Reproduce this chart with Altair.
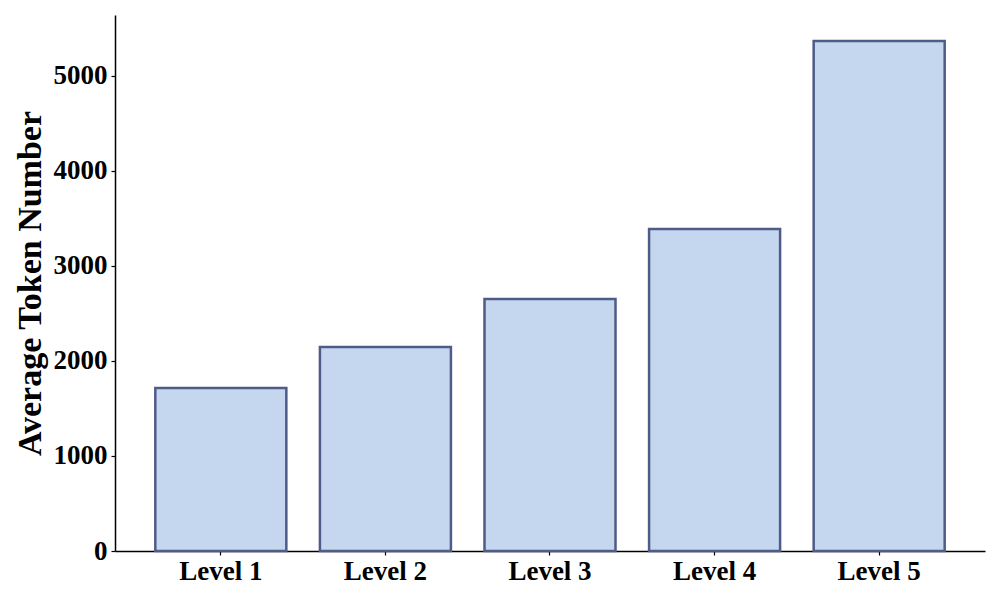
import altair as alt
import pandas as pd

levels = ["Level 1", "Level 2", "Level 3", "Level 4", "Level 5"]
tokens = [1716, 2147, 2653, 3389, 5368]

df = pd.DataFrame({"level": levels, "tokens": tokens})

font = "Liberation Serif"

chart = alt.Chart(df).mark_bar(
    fill="#c5d7ee", stroke="#4f5b88", strokeWidth=2.5
).encode(
    x=alt.X("level:N", sort=levels,
            scale=alt.Scale(paddingInner=0.204, paddingOuter=0.245),
            axis=alt.Axis(title=None, labelAngle=0, labelFont=font, labelFontSize=27,
                          labelFontWeight="bold", labelColor="black", labelPadding=3,
                          domainColor="black", domainWidth=1.5, tickColor="black",
                          tickSize=4, tickWidth=1.2)),
    y=alt.Y("tokens:Q",
            scale=alt.Scale(domain=[0, 5642], nice=False, zero=True),
            axis=alt.Axis(title="Average Token Number", values=[0, 1000, 2000, 3000, 4000, 5000],
                          format="d",
                          titleFont=font, titleFontSize=34, titleFontWeight="bold",
                          titleColor="black", titlePadding=6,
                          labelFont=font, labelFontSize=27, labelFontWeight="bold",
                          labelColor="black", labelPadding=4, grid=False,
                          domainColor="black", domainWidth=1.5, tickColor="black",
                          tickSize=4, tickWidth=1.2)),
).properties(
    width=870, height=536,
    autosize=alt.AutoSizeParams(type="none"),
    padding={"left": 107, "top": 7, "right": 7, "bottom": 41},
).configure_view(stroke=None)

chart.save("out.html", embed_options={"renderer": "svg", "actions": False})
